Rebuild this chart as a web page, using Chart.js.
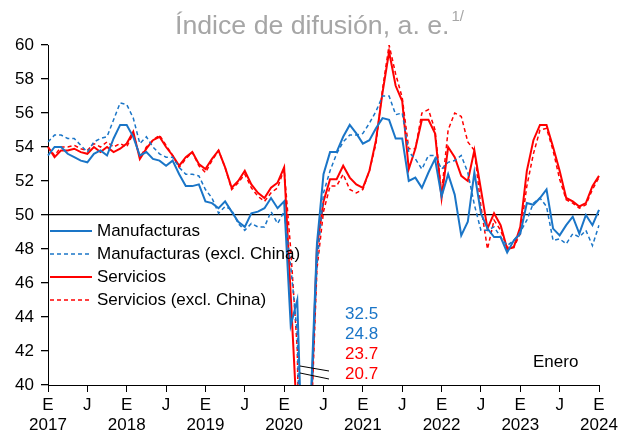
<!DOCTYPE html>
<html>
<head>
<meta charset="utf-8">
<script src="https://cdn.jsdelivr.net/npm/chart.js@4"></script>
<style>
  body { margin: 0; background: #fff; }
  canvas { display: block; }
</style>
</head>
<body>
<canvas id="chart" width="626" height="436"></canvas>
<script>
// Monthly data, Jan 2017 - Jan 2024
const months = [];
for (let y = 2017; y <= 2024; y++) {
  for (let m = 0; m < 12; m++) {
    if (y === 2024 && m > 0) break;
    months.push(y + '-' + (m + 1));
  }
}

const manufacturas = [
  53.5, 54.0, 54.0, 53.6, 53.4, 53.2, 53.1, 53.6, 53.8, 53.5, 54.5, 55.3,
  55.3, 54.6, 53.5, 53.7, 53.3, 53.2, 52.9, 53.2, 52.4, 51.7, 51.7, 51.8,
  50.8, 50.7, 50.4, 50.8, 50.2, 49.6, 49.3, 50.1, 50.2, 50.4, 51.0, 50.4,
  50.8, 43.5, 45.0, 32.5, 38.5, 48.3, 52.4, 53.7, 53.7, 54.6, 55.3, 54.8,
  54.2, 54.4, 55.1, 55.7, 55.6, 54.5, 54.5, 52.0, 52.2, 51.6, 52.5, 53.3,
  51.1, 52.4, 51.2, 48.8, 49.6, 52.5, 50.1, 49.2, 48.7, 48.7, 47.8, 48.5,
  48.9, 50.7, 50.6, 51.0, 51.5, 49.2, 48.8, 49.4, 49.9, 48.9, 50.0, 49.4,
  50.3
];

const manufacturasExChina = [
  54.3, 54.7, 54.7, 54.5, 54.5, 54.1, 53.7, 54.3, 54.5, 54.6, 55.6, 56.6,
  56.5, 55.7, 54.2, 54.6, 54.0, 53.6, 53.4, 53.4, 52.8, 52.4, 52.4, 52.3,
  51.5, 51.0, 50.1, 50.5, 50.3, 49.5, 49.1, 49.5, 49.3, 49.3, 50.2, 49.5,
  50.2, 47.0, 43.0, 24.8, 37.5, 47.0, 51.3, 52.6, 53.6, 54.3, 54.7, 54.7,
  54.8, 55.4, 56.1, 57.0, 57.0, 55.9, 56.0, 53.7, 53.3, 52.7, 53.5, 53.5,
  52.7, 53.1, 53.2, 53.5, 52.5, 50.6, 49.1, 49.1, 49.3, 48.7, 48.2, 48.5,
  49.0, 49.7, 50.7, 51.0, 50.5, 48.5, 48.6, 48.3, 48.9, 48.7, 49.1, 48.2,
  49.4
];

const servicios = [
  54.0, 53.4, 53.8, 53.8, 53.9, 53.7, 53.6, 54.0, 53.7, 54.0, 53.7, 53.9,
  54.2, 54.9, 53.3, 53.9, 54.4, 54.6, 54.0, 53.5, 52.9, 53.4, 53.7, 53.0,
  52.7, 53.3, 53.8, 52.8, 51.6, 52.0, 52.6, 51.8, 51.3, 51.0, 51.6, 51.9,
  52.8, 45.3, 37.7, 23.7, 37.3, 48.1, 50.8, 52.1, 52.1, 52.9, 52.2, 51.8,
  51.6, 52.6, 54.4, 57.2, 59.6, 57.6, 56.7, 52.7, 53.9, 55.6, 55.6, 54.8,
  51.0, 54.0, 53.4, 52.3, 52.0, 53.8, 51.5, 49.2, 50.1, 49.4, 48.0, 48.1,
  49.3, 52.6, 54.4, 55.3, 55.3, 54.0, 52.6, 51.0, 50.8, 50.5, 50.7, 51.7,
  52.3
];

const serviciosExChina = [
  54.0, 53.5, 54.0, 54.0, 54.1, 53.9, 53.8, 54.2, 54.0, 54.3, 54.0, 54.2,
  54.0, 54.8, 53.4, 54.0, 54.4, 54.7, 54.1, 53.5, 52.8, 53.3, 53.7, 52.9,
  52.5, 53.2, 53.8, 52.8, 51.5, 51.9, 52.4, 51.6, 51.1, 50.8, 51.3, 51.6,
  52.7, 48.0, 42.1, 20.7, 36.5, 46.8, 50.2, 51.7, 51.7, 52.4, 51.5, 51.3,
  51.5, 52.6, 54.2, 57.4, 60.0, 58.3, 56.9, 53.9, 53.9, 56.0, 56.2, 55.0,
  51.3, 55.0, 56.0, 55.8, 54.3, 53.8, 50.5, 48.0, 49.7, 49.1, 48.1, 48.1,
  48.9, 51.7, 53.6, 55.0, 55.1, 53.8, 52.1, 50.9, 50.7, 50.4, 50.6, 51.5,
  52.2
];

const minLabels = ['32.5', '24.8', '23.7', '20.7'];

const BLUE = '#1a75c7';
const RED = '#ff0000';
const FONT = '"Liberation Sans", Arial, sans-serif';

// legend, subtitle, notes and axis-break marks
const extras = {
  id: 'extras',
  afterDraw(chart) {
    const ctx = chart.ctx;
    ctx.save();

    // subtitle
    ctx.fillStyle = '#a6a6a6';
    ctx.textBaseline = 'alphabetic';
    ctx.textAlign = 'left';
    ctx.font = '26.7px ' + FONT;
    const sub = 'Índice de difusión, a. e.';
    ctx.fillText(sub, 175, 34);
    const w = ctx.measureText(sub).width;
    ctx.font = '15px ' + FONT;
    ctx.fillText('1/', 175 + w + 2, 21);

    // legend
    const items = [
      ['Manufacturas', BLUE, []],
      ['Manufacturas (excl. China)', BLUE, [4, 3]],
      ['Servicios', RED, []],
      ['Servicios (excl. China)', RED, [4, 3]]
    ];
    ctx.font = '17px ' + FONT;
    ctx.textBaseline = 'middle';
    items.forEach((it, k) => {
      const y = 231 + k * 23;
      ctx.strokeStyle = it[1];
      ctx.lineWidth = it[2].length ? 1.5 : 2;
      ctx.setLineDash(it[2]);
      ctx.beginPath();
      ctx.moveTo(50, y);
      ctx.lineTo(92, y);
      ctx.stroke();
      ctx.setLineDash([]);
      ctx.fillStyle = '#000';
      ctx.fillText(it[0], 97, y);
    });

    // minimum values (off the scale)
    const cols = [BLUE, BLUE, RED, RED];
    minLabels.forEach((t, k) => {
      ctx.fillStyle = cols[k];
      ctx.fillText(t, 345, 314 + k * 20);
    });

    ctx.fillStyle = '#000';
    ctx.fillText('Enero', 533, 362);

    // axis break marks
    ctx.strokeStyle = '#000';
    ctx.lineWidth = 1;
    ctx.beginPath();
    ctx.moveTo(300, 366); ctx.lineTo(329, 371);
    ctx.moveTo(300, 373); ctx.lineTo(329, 379);
    ctx.stroke();

    ctx.restore();
  }
};

function series(data, color, dashed) {
  return {
    data: data,
    borderColor: color,
    backgroundColor: color,
    borderWidth: dashed ? 1.5 : 2,
    borderDash: dashed ? [4, 3] : [],
    pointRadius: 0,
    tension: 0,
    fill: false
  };
}

new Chart(document.getElementById('chart'), {
  type: 'line',
  data: {
    labels: months,
    datasets: [
      series(manufacturas, BLUE, false),
      series(manufacturasExChina, BLUE, true),
      series(servicios, RED, false),
      series(serviciosExChina, RED, true)
    ]
  },
  options: {
    responsive: false,
    animation: false,
    devicePixelRatio: 1,
    layout: { padding: { top: 45, right: 27, left: 0, bottom: 0 } },
    plugins: {
      legend: { display: false },
      tooltip: { enabled: false }
    },
    scales: {
      x: {
        offset: false,
        afterFit(s) { s.height = 51; },
        border: { display: true, color: '#000', width: 1 },
        grid: {
          drawOnChartArea: false,
          tickLength: 7,
          tickColor: (c) => (c.index % 6 === 0 ? '#000' : 'rgba(0,0,0,0)')
        },
        ticks: {
          autoSkip: false,
          maxRotation: 0,
          padding: 3,
          color: '#000',
          font: { family: FONT, size: 17 },
          callback: (v, i) => {
            if (i % 12 === 0) return ['E', String(2017 + i / 12)];
            if (i % 12 === 6) return 'J';
            return '';
          }
        }
      },
      y: {
        min: 40,
        max: 60,
        afterFit(s) { s.width = 48; },
        border: { display: true, color: '#000', width: 1 },
        grid: {
          drawOnChartArea: true,
          lineWidth: 1.3,
          color: (c) => (c.tick && c.tick.value === 50 ? '#000' : 'rgba(0,0,0,0)'),
          tickColor: '#000',
          tickLength: 7
        },
        ticks: {
          stepSize: 2,
          padding: 7,
          color: '#000',
          font: { family: FONT, size: 17 }
        }
      }
    }
  },
  plugins: [extras]
});
</script>
</body>
</html>
